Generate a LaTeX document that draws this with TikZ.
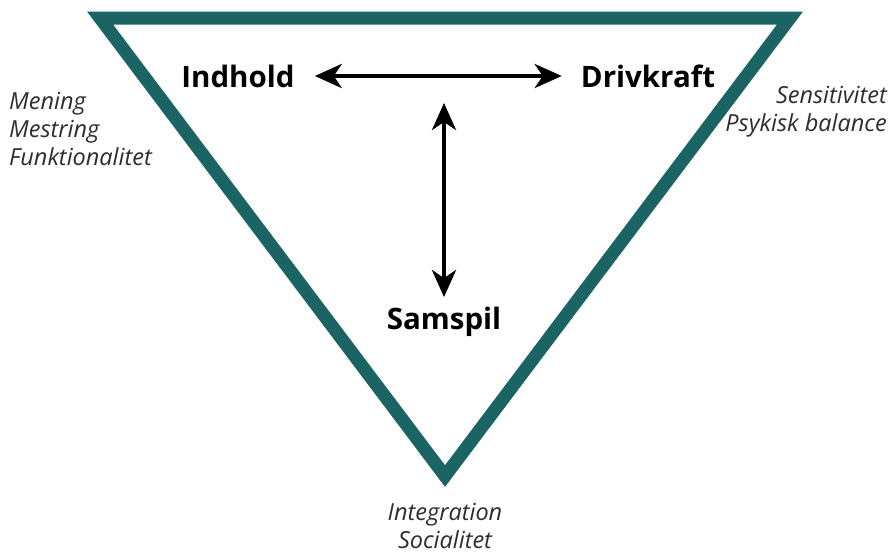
\documentclass[tikz,border=0pt]{standalone}
\usepackage{fontspec}
\setmainfont{Open Sans}
\usepackage{tikz}
\usetikzlibrary{arrows.meta,positioning}
\usepackage{xcolor}
\definecolor{triteal}{RGB}{28,100,100}
\definecolor{trigray}{RGB}{45,45,45}
\tikzstyle{arrow} = [line width=4pt,{Stealth[length=27pt,width=24pt,inset=8pt]}-{Stealth[length=27pt,width=24pt,inset=8pt]},color=black]
\tikzstyle{concept} = [inner sep=2pt, text centered, font=\fontsize{29.5}{34}\selectfont\bfseries]
\tikzstyle{aspect} = [inner sep=0pt, text=trigray, font=\fontsize{23.5}{28}\selectfont\itshape]

\begin{document}
\begin{tikzpicture}[x=1pt, y=-1pt]
\useasboundingbox (0,0) rectangle (891,558);
% triangle
\draw[triteal, line width=13pt, miter limit=10, fill=white] (100,18) -- (790,18) -- (445,476) -- cycle;

% concepts
\node[concept] (ind) at (238,76) {Indhold};
\node[concept] (drv) at (648,76) {Drivkraft};
\node[concept] (sam) at (444,322) {Samspil};
\coordinate (top) at (444,103);

% arrows
\draw[arrow, shorten <=18pt, shorten >=17pt] (ind) -- (drv);
\draw[arrow, shorten >=8pt] (top) -- (sam);

% aspects
\node[aspect, anchor=west, align=left] (left) at (9,129) {Mening\\Mestring\\Funktionalitet};
\node[aspect, anchor=east, align=right] (right) at (887,112) {Sensitivitet\\Psykisk balance};
\node[aspect, align=center] (bottom) at (445,526) {Integration\\Socialitet};
\end{tikzpicture}
\end{document}
